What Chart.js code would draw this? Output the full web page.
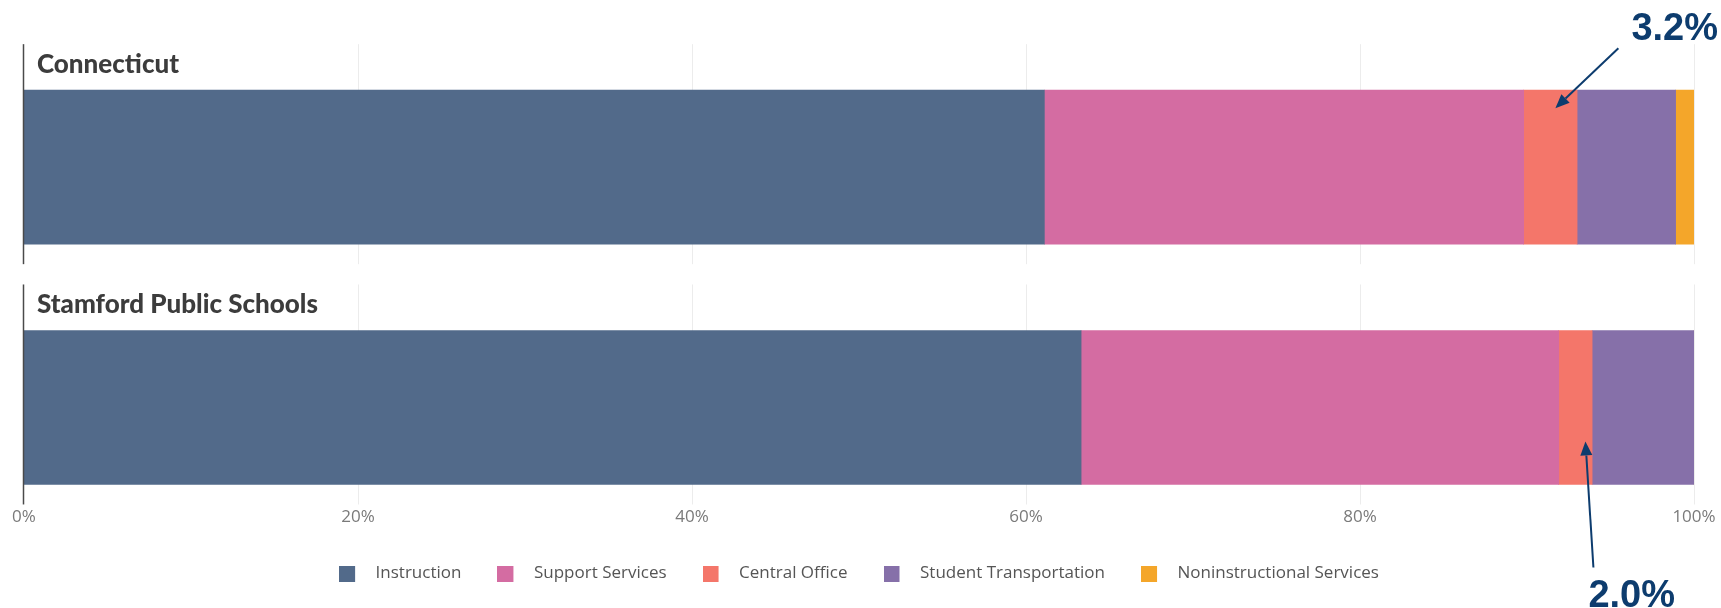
<!DOCTYPE html>
<html>
<head>
<meta charset="utf-8">
<script src="https://cdn.jsdelivr.net/npm/chart.js@4.4.1/dist/chart.umd.min.js"></script>
<style>
  html, body { margin: 0; padding: 0; background: #fff; }
  #wrap { width: 1721px; height: 608px; position: relative; }
</style>
</head>
<body>
<div id="wrap"><canvas id="spendChart"></canvas></div>
<script>
// data
const regions = ['Connecticut', 'Stamford Public Schools'];
const categories = ['Instruction', 'Support Services', 'Central Office', 'Student Transportation', 'Noninstructional Services'];
const instruction = [61.1, 63.3];
const supportServices = [28.7, 28.6];
const centralOffice = [3.2, 2.0];
const studentTransportation = [5.9, 6.1];
const noninstructional = [1.1, 0];
const xTicks = [0, 20, 40, 60, 80, 100];

const colors = ['#526a8a', '#d46ca2', '#f4766a', '#8670a9', '#f4a62a'];
const BAR = 154;

// callouts point at the central office segment of each bar
const callouts = [
    { index: 0, tip: [5, -59], tail: [63, -60], text: [13, -8] },
    { index: 1, tip: [10, 34], tail: [8, 126], text: [-5, 40] }
];

// legend swatch: 16px square with some empty room on its right
function swatch(color) {
    const c = document.createElement('canvas');
    c.width = 28;
    c.height = 16;
    const g = c.getContext('2d');
    g.fillStyle = color;
    g.fillRect(0, 0, 16, 16);
    return c;
}
const swatches = colors.map(swatch);

const panelPlugin = {
    id: 'panels',
    beforeDatasetsDraw(chart) {
        const { ctx, scales: { x, y } } = chart;
        const half = BAR / 2;
        ctx.save();
        regions.forEach((name, i) => {
            const cy = y.getPixelForValue(i);
            const top = cy - half - 46, bottom = cy + half + 20;
            ctx.strokeStyle = '#ececec';
            ctx.lineWidth = 1;
            xTicks.slice(1).forEach(t => {
                const px = Math.round(x.getPixelForValue(t)) + 0.5;
                ctx.beginPath();
                ctx.moveTo(px, top);
                ctx.lineTo(px, bottom);
                ctx.stroke();
            });
            ctx.fillStyle = '#3c3c3c';
            ctx.font = '900 26px Lato';
            ctx.textBaseline = 'alphabetic';
            ctx.fillText(name, x.getPixelForValue(0) + 13, cy - half - 17);
        });
        ctx.restore();
    },
    afterDatasetsDraw(chart) {
        const { ctx, scales: { x, y } } = chart;
        const half = BAR / 2;
        const x0 = x.getPixelForValue(0) - 0.5;
        ctx.save();
        ctx.strokeStyle = '#4a4a4a';
        ctx.lineWidth = 1.5;
        regions.forEach((name, i) => {
            const cy = y.getPixelForValue(i);
            ctx.beginPath();
            ctx.moveTo(x0, cy - half - 46);
            ctx.lineTo(x0, cy + half + 20);
            ctx.stroke();
        });
        ctx.restore();
    }
};

const calloutPlugin = {
    id: 'callouts',
    afterDraw(chart) {
        const { ctx } = chart;
        const meta = chart.getDatasetMeta(2);
        ctx.save();
        ctx.strokeStyle = '#0d3c6e';
        ctx.fillStyle = '#0d3c6e';
        ctx.lineWidth = 2;
        callouts.forEach(c => {
            const bar = meta.data[c.index];
            const mid = (bar.x + bar.base) / 2;
            const tx = mid + c.tip[0], ty = bar.y + c.tip[1];
            const sx = tx + c.tail[0], sy = ty + c.tail[1];
            const ang = Math.atan2(ty - sy, tx - sx);
            const head = 14, wing = 6;
            const bx = tx - head * Math.cos(ang), by = ty - head * Math.sin(ang);
            ctx.beginPath();
            ctx.moveTo(sx, sy);
            ctx.lineTo(bx, by);
            ctx.stroke();
            ctx.beginPath();
            ctx.moveTo(tx, ty);
            ctx.lineTo(bx + wing * Math.sin(ang), by - wing * Math.cos(ang));
            ctx.lineTo(bx - wing * Math.sin(ang), by + wing * Math.cos(ang));
            ctx.closePath();
            ctx.fill();
            ctx.font = 'bold 38px "Liberation Sans", Arial, sans-serif';
            ctx.textBaseline = 'alphabetic';
            ctx.fillText(centralOffice[c.index].toFixed(1) + '%', sx + c.text[0], sy + c.text[1]);
        });
        ctx.restore();
    }
};

Chart.defaults.font.family = '"Open Sans", sans-serif';

const series = [instruction, supportServices, centralOffice, studentTransportation, noninstructional];

new Chart(document.getElementById('spendChart'), {
    type: 'bar',
    data: {
        labels: regions.map((r, i) => i),
        datasets: categories.map((name, i) => ({
            label: name,
            data: series[i],
            backgroundColor: colors[i],
            borderWidth: 0,
            barThickness: BAR
        }))
    },
    options: {
        indexAxis: 'y',
        responsive: true,
        maintainAspectRatio: false,
        animation: false,
        layout: { padding: { top: 44, left: 24, right: 27, bottom: 16 } },
        scales: {
            x: {
                stacked: true,
                min: 0,
                max: 100,
                grid: { display: false, drawTicks: false },
                border: { display: false },
                afterBuildTicks: axis => { axis.ticks = xTicks.map(v => ({ value: v })); },
                ticks: {
                    padding: 2,
                    color: '#7a7a7a',
                    font: { size: 17 },
                    maxRotation: 0,
                    callback: v => v + '%'
                }
            },
            y: {
                type: 'linear',
                stacked: true,
                reverse: true,
                offset: false,
                display: false,
                min: -0.5125,
                max: 1.4042
            }
        },
        plugins: {
            legend: {
                position: 'bottom',
                labels: {
                    usePointStyle: true,
                    pointStyleWidth: 28,
                    boxHeight: 16,
                    padding: 36,
                    color: '#555',
                    font: { size: 17 },
                    generateLabels: chart => Chart.defaults.plugins.legend.labels.generateLabels(chart)
                        .map((item, i) => ({ ...item, pointStyle: swatches[i] }))
                }
            },
            tooltip: { enabled: false }
        }
    },
    plugins: [panelPlugin, calloutPlugin]
});
</script>
</body>
</html>
